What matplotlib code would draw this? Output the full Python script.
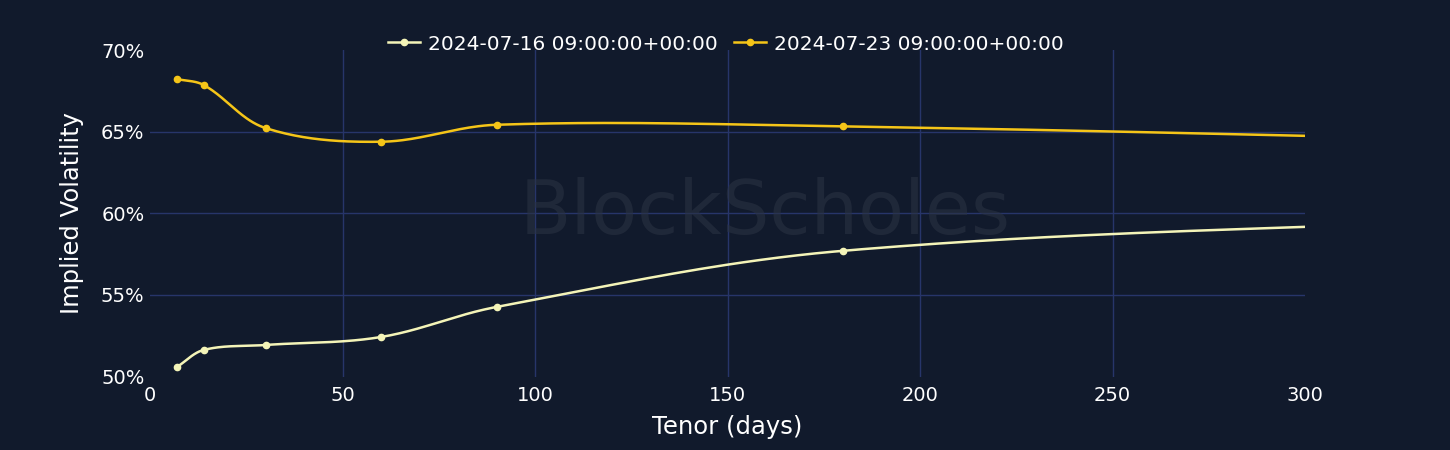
import numpy as np
import matplotlib
matplotlib.use("Agg")
import matplotlib.pyplot as plt

# Tenor (days) and implied vol (%)
tenor = [7, 14, 30, 60, 90, 180, 365]
iv_0716 = [50.58, 51.63, 51.93, 52.42, 54.26, 57.70, 59.75]
iv_0723 = [68.22, 67.85, 65.22, 64.38, 65.42, 65.32, 64.40]
labels = ["2024-07-16 09:00:00+00:00", "2024-07-23 09:00:00+00:00"]
colors = ["#f4f4b8", "#f5c518"]

BG = "#111a2c"
GRID = "#27356a"


def spline(x, y, sx, sy, n=40, k=0.35):
    """Catmull-Rom style smoothing in scaled (pixel-like) space, like plotly's spline."""
    pts = np.column_stack([np.asarray(x, float) * sx, np.asarray(y, float) * sy])
    out = [pts[0]]
    for i in range(len(pts) - 1):
        p0 = pts[i - 1] if i > 0 else pts[i]
        p1, p2 = pts[i], pts[i + 1]
        p3 = pts[i + 2] if i + 2 < len(pts) else pts[i + 1]
        d1 = np.hypot(*(p1 - p0)) or 1.0
        d2 = np.hypot(*(p2 - p1))
        d3 = np.hypot(*(p3 - p2)) or 1.0
        c1 = p1 + (p2 - p0) / (d1 + d2) * d2 * k
        c2 = p2 - (p3 - p1) / (d2 + d3) * d2 * k
        t = np.linspace(0, 1, n)[1:, None]
        seg = ((1 - t) ** 3) * p1 + 3 * ((1 - t) ** 2) * t * c1 + 3 * (1 - t) * t ** 2 * c2 + t ** 3 * p2
        out.extend(seg)
    out = np.array(out)
    return out[:, 0] / sx, out[:, 1] / sy


fig = plt.figure(figsize=(14.5, 4.5), dpi=100, facecolor=BG)
ax = fig.add_axes([150 / 1450, 73.5 / 450, 1155 / 1450, 326.5 / 450], facecolor=BG)

sx, sy = 1155 / 300, 326.5 / 20
for yv, c in zip([iv_0716, iv_0723], colors):
    xs, ys = spline(tenor, yv, sx, sy)
    ax.plot(xs, ys, color=c, lw=1.8, zorder=3)
    ax.plot(tenor, yv, "o", color=c, ms=4.5, zorder=4)

handles = [plt.Line2D([], [], color=c, lw=1.8, marker="o", ms=4.5) for c in colors]
fig.legend(handles, labels, loc="center", bbox_to_anchor=(726 / 1450, 1 - 44 / 450),
           ncol=2, frameon=False, fontsize=14.5, handlelength=1.6, handletextpad=0.4,
           columnspacing=0.8, labelcolor="white")

ax.set_xlim(0, 300)
ax.set_ylim(50, 70)
ax.set_xticks(range(0, 301, 50))
ax.set_yticks(range(50, 71, 5))
ax.set_yticklabels([f"{v}%" for v in range(50, 71, 5)])
ax.tick_params(colors="white", labelsize=14, length=0)
ax.tick_params(axis="y", pad=4)
ax.tick_params(axis="x", pad=7)
# interior gridlines only (none on the frame edges)
for xv in range(50, 300, 50):
    ax.axvline(xv, color=GRID, lw=1, zorder=0)
for yv in range(55, 70, 5):
    ax.axhline(yv, color=GRID, lw=1, zorder=0)
for s in ax.spines.values():
    s.set_visible(False)

ax.set_xlabel("Tenor (days)", color="white", fontsize=17.5, labelpad=7)
ax.set_ylabel("Implied Volatility", color="white", fontsize=17.5, labelpad=12)

# watermark
fig.text(765 / 1450, 1 - 213 / 450, "BlockScholes", color="#2a3242", alpha=0.6,
         fontsize=54, ha="center", va="center", zorder=1)

fig.savefig("out.png", facecolor=BG)
